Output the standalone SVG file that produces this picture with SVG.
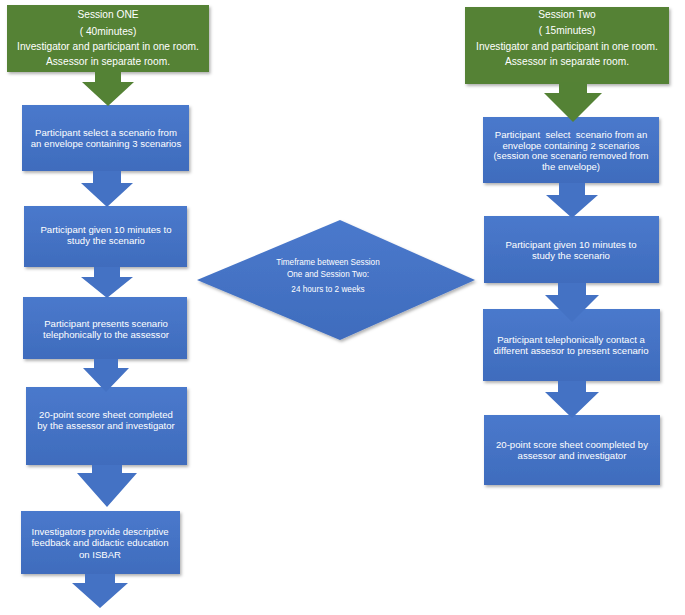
<svg xmlns="http://www.w3.org/2000/svg" width="685" height="615" viewBox="0 0 685 615">
<defs>
<filter id="sh" x="-5%" y="-5%" width="112%" height="115%">
<feDropShadow dx="1.5" dy="2" stdDeviation="1.5" flood-color="#000" flood-opacity="0.3"/>
</filter>
<linearGradient id="bg" x1="0" y1="0" x2="0" y2="1">
<stop offset="0" stop-color="#4a79cc"/>
<stop offset="1" stop-color="#3f6cbd"/>
</linearGradient>
</defs>
<style>
.g{fill:#548235;filter:url(#sh)}
.b{fill:url(#bg);filter:url(#sh)}
.ga{fill:#548235}
.ba{fill:#4472c4}
text{font-family:"Liberation Sans",Arial,sans-serif;fill:#fff;text-anchor:middle}
.tg{font-size:10.2px}
.tb{font-size:9.6px}
.td{font-size:8.2px}
.pre{white-space:pre}
</style>
<rect width="685" height="615" fill="#fff"/>

<g id="session-one">
<rect class="g" x="7" y="5" width="202" height="67"/>
<text class="tg" x="108" y="18">Session ONE</text>
<text class="tg" x="108" y="35">( 40minutes)</text>
<text class="tg" x="108" y="50">Investigator and participant in one room.</text>
<text class="tg" x="108" y="65">Assessor in separate room.</text>
</g>
<g id="l1">
<rect class="b" x="22" y="105" width="167" height="66"/>
<text class="tb" x="106" y="136">Participant select a scenario from</text>
<text class="tb" x="106" y="147">an envelope containing 3 scenarios</text>
</g>
<g id="l2">
<rect class="b" x="24" y="206" width="163" height="61"/>
<text class="tb" x="106" y="233">Participant given 10 minutes to</text>
<text class="tb" x="106" y="244">study the scenario</text>
</g>
<g id="l3">
<rect class="b" x="23" y="297" width="164" height="62"/>
<text class="tb" x="106" y="327">Participant presents scenario</text>
<text class="tb" x="106" y="338">telephonically to the assessor</text>
</g>
<g id="l4">
<rect class="b" x="26" y="387" width="161" height="78"/>
<text class="tb" x="106" y="418">20-point score sheet completed</text>
<text class="tb" x="106" y="429">by the assessor and investigator</text>
</g>
<g id="l5">
<rect class="b" x="21" y="511" width="159" height="63"/>
<text class="tb" x="100" y="535">Investigators provide descriptive</text>
<text class="tb" x="100" y="546">feedback and didactic education</text>
<text class="tb" x="100" y="558">on ISBAR</text>
</g>

<g id="timeframe">
<polygon class="b" points="197,280 340,220 475,280 340,340"/>
<text class="td" x="328" y="265">Timeframe between Session</text>
<text class="td" x="328" y="277">One and Session Two:</text>
<text class="td" x="328" y="292">24 hours to 2 weeks</text>
</g>

<g id="session-two">
<rect class="g" x="465" y="7" width="204" height="77"/>
<text class="tg" x="567" y="18">Session Two</text>
<text class="tg" x="567" y="34">( 15minutes)</text>
<text class="tg" x="567" y="50">Investigator and participant in one room.</text>
<text class="tg" x="567" y="65">Assessor in separate room.</text>
</g>
<g id="r1">
<rect class="b" x="483" y="117" width="176" height="66"/>
<text class="tb pre" x="571" y="138">Participant  select  scenario from an</text>
<text class="tb" x="571" y="148.5">envelope containing 2 scenarios</text>
<text class="tb" x="571" y="159">(session one scenario removed from</text>
<text class="tb" x="571" y="169.5">the envelope)</text>
</g>
<g id="r2">
<rect class="b" x="484" y="216" width="175" height="67"/>
<text class="tb" x="571" y="248">Participant given 10 minutes to</text>
<text class="tb" x="571" y="259">study the scenario</text>
</g>
<g id="r3">
<rect class="b" x="483" y="309" width="177" height="72"/>
<text class="tb" x="571" y="343">Participant telephonically contact a</text>
<text class="tb" x="571" y="354">different assesor to present scenario</text>
</g>
<g id="r4">
<rect class="b" x="484" y="415" width="176" height="70"/>
<text class="tb" x="572" y="448">20-point score sheet coompleted by</text>
<text class="tb" x="572" y="459">assessor and investigator</text>
</g>

<g id="connectors">
<polygon class="ga" points="95,70 121,70 121,82 134,82 108,106 82,82 95,82"/>
<polygon class="ba" points="93,171 121,171 121,183 133,183 107,207 81,183 93,183"/>
<polygon class="ba" points="94,267 120,267 120,277 133,277 107,298 81,277 94,277"/>
<polygon class="ba" points="94,359 118,359 118,368 129,368 106,392 83,368 94,368"/>
<polygon class="ba" points="92,465 122,465 122,473 137,473 107,507 77,473 92,473"/>
<polygon class="ba" points="85,574 115,574 115,583 128,583 100,608 72,583 85,583"/>
<polygon class="ga" points="559,82 587,82 587,93 602,93 573,122 544,93 559,93"/>
<polygon class="ba" points="559,183 585,183 585,195 598,195 572,218 546,195 559,195"/>
<polygon class="ba" points="558,283 586,283 586,295 599,295 572,322 545,295 558,295"/>
<polygon class="ba" points="558,381 586,381 586,392 599,392 572,418 545,392 558,392"/>
</g>
</svg>
